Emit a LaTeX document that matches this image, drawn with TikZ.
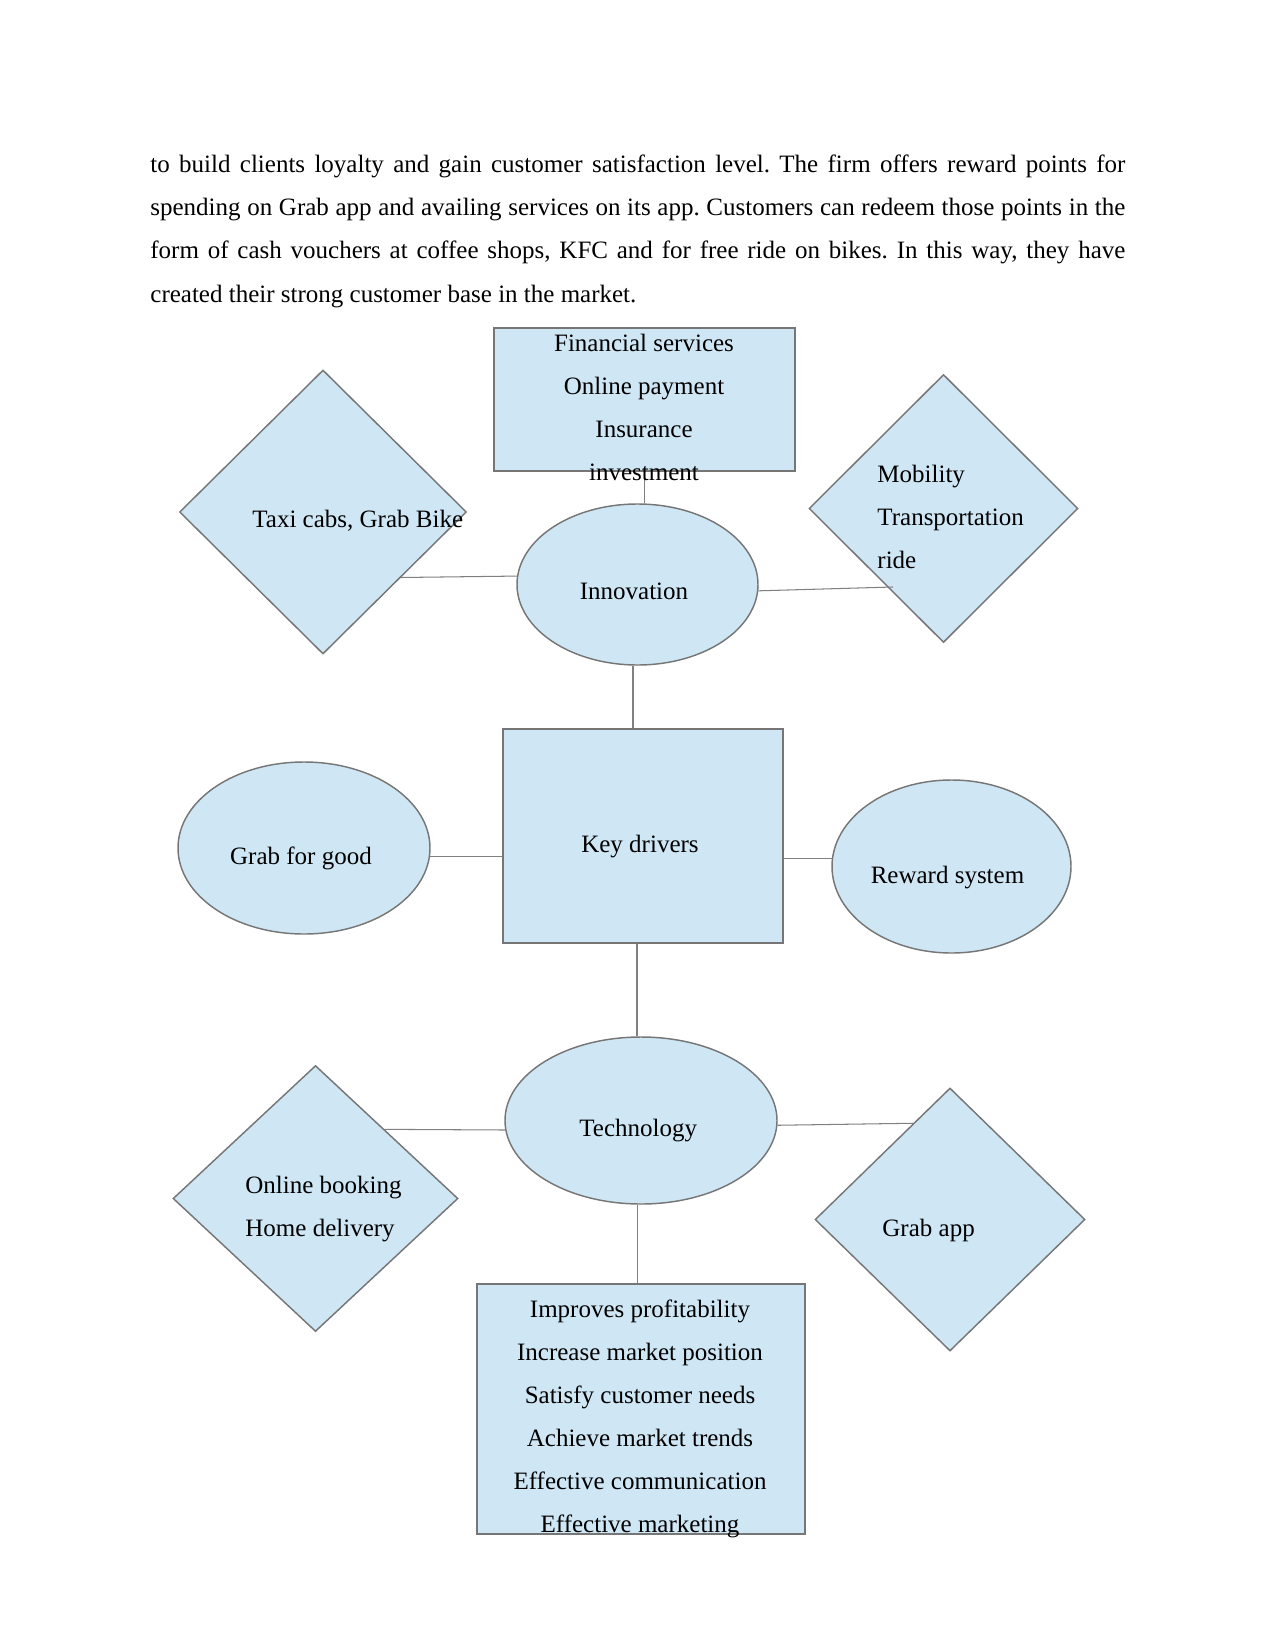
\documentclass[tikz,border=0pt]{standalone}
\usepackage{fontspec}
\setmainfont{Liberation Serif}
\usetikzlibrary{shapes.geometric,calc}
\definecolor{shapefill}{HTML}{CFE7F5}
\definecolor{shapeline}{HTML}{767676}
\definecolor{linkgray}{HTML}{808080}
\newcommand{\pxl}{0.48pt}
\frenchspacing

\begin{document}
\begin{tikzpicture}[
  x=0.48pt, y=-0.48pt,
  box/.style={draw=shapeline, fill=shapefill, line width=0.7pt, inner sep=0pt, rectangle},
  oval/.style={box, ellipse},
  rhomb/.style={box, diamond},
  txt/.style={inner sep=0pt, font=\fontsize{12pt}{20.64pt}\selectfont},
  link/.style={draw=linkgray, line width=0.5pt}
]
\useasboundingbox (0,0) rectangle (1275,1651);

\node[txt, anchor=base west] (par1) at (150,173) {\makebox[468pt][s]{to build clients loyalty and gain customer satisfaction level. The firm offers reward points for}};
\node[txt, anchor=base west] (par2) at (150,216) {\makebox[468pt][s]{spending on Grab app and availing services on its app. Customers can redeem those points in the}};
\node[txt, anchor=base west] (par3) at (150,259) {\makebox[468pt][s]{form of cash vouchers at coffee shops, KFC and for free ride on bikes. In this way, they have}};
\node[txt, anchor=base west] (par4) at (150,302) {created their strong customer base in the market.};

\node[box, minimum width=301*\pxl, minimum height=143*\pxl] (fin) at (644.5,399.5) {};
\node[oval, minimum width=241*\pxl, minimum height=161*\pxl] (innov) at (637.5,584.5) {};
\node[rhomb, minimum width=287*\pxl, minimum height=284*\pxl] (taxi) at (323,512) {};
\node[rhomb, minimum width=269*\pxl, minimum height=268*\pxl] (mob) at (943.5,508.5) {};
\node[box, minimum width=280*\pxl, minimum height=214*\pxl] (key) at (643,836) {};
\node[oval, minimum width=252*\pxl, minimum height=172*\pxl] (good) at (304,848) {};
\node[oval, minimum width=239*\pxl, minimum height=173*\pxl] (reward) at (951.5,866.5) {};
\node[oval, minimum width=272*\pxl, minimum height=167*\pxl] (tech) at (641,1120.5) {};
\node[rhomb, minimum width=285*\pxl, minimum height=266*\pxl] (book) at (315.5,1198.5) {};
\node[rhomb, minimum width=270*\pxl, minimum height=263*\pxl] (app) at (950,1219.5) {};
\node[box, minimum width=328*\pxl, minimum height=250*\pxl] (res) at (641,1409) {};

\coordinate (mobend) at (893,587);

\draw[link] (fin.south) -- (fin.south |- innov.north);
\draw[link] ([xshift=-4.5*\pxl]innov.south) -- ([xshift=-4.5*\pxl]innov.south |- key.north);
\draw[link] (innov.176) -- (taxi.-40);
\draw[link] (innov.-3) -- (mobend);
\draw[link] (good.-4) -- (good.-4 -| key.west);
\draw[link] (reward.176) -- (reward.176 -| key.east);
\draw[link] ([xshift=-4*\pxl]tech.north) -- ([xshift=-4*\pxl]tech.north |- key.south);
\draw[link] ([xshift=-3.5*\pxl]tech.south) -- ([xshift=-3.5*\pxl]tech.south |- res.north);
\draw[link] (tech.184) -- (book.45);
\draw[link] (tech.-2) -- (app.111);

\foreach \t [count=\i from 0] in {Financial services, Online payment, Insurance, investment}
  \node[txt, anchor=base] (fin-\i) at (644,351+43*\i) {\t};
\node[txt, anchor=base west] (taxi-t) at (252,527) {Taxi cabs, Grab Bike};
\foreach \t [count=\i from 0] in {Mobility, Transportation, ride}
  \node[txt, anchor=base west] (mob-\i) at (877,482+43*\i) {\t};
\node[txt, anchor=base] (innov-t) at (634,599) {Innovation};
\node[txt, anchor=base] (key-t) at (640,852) {Key drivers};
\node[txt, anchor=base] (good-t) at (301,864) {Grab for good};
\node[txt, anchor=base] (reward-t) at (947.5,883) {Reward system};
\node[txt, anchor=base west] (tech-t) at (579,1136) {Technology};
\foreach \t [count=\i from 0] in {Online booking, Home delivery}
  \node[txt, anchor=base west] (book-\i) at (245,1193+43*\i) {\t};
\node[txt, anchor=base west] (app-t) at (882,1236) {Grab app};
\foreach \t [count=\i from 0] in {Improves profitability, Increase market position, Satisfy customer needs, Achieve market trends, Effective communication, Effective marketing}
  \node[txt, anchor=base] (res-\i) at (640,1317+43*\i) {\t};

\end{tikzpicture}
\end{document}
